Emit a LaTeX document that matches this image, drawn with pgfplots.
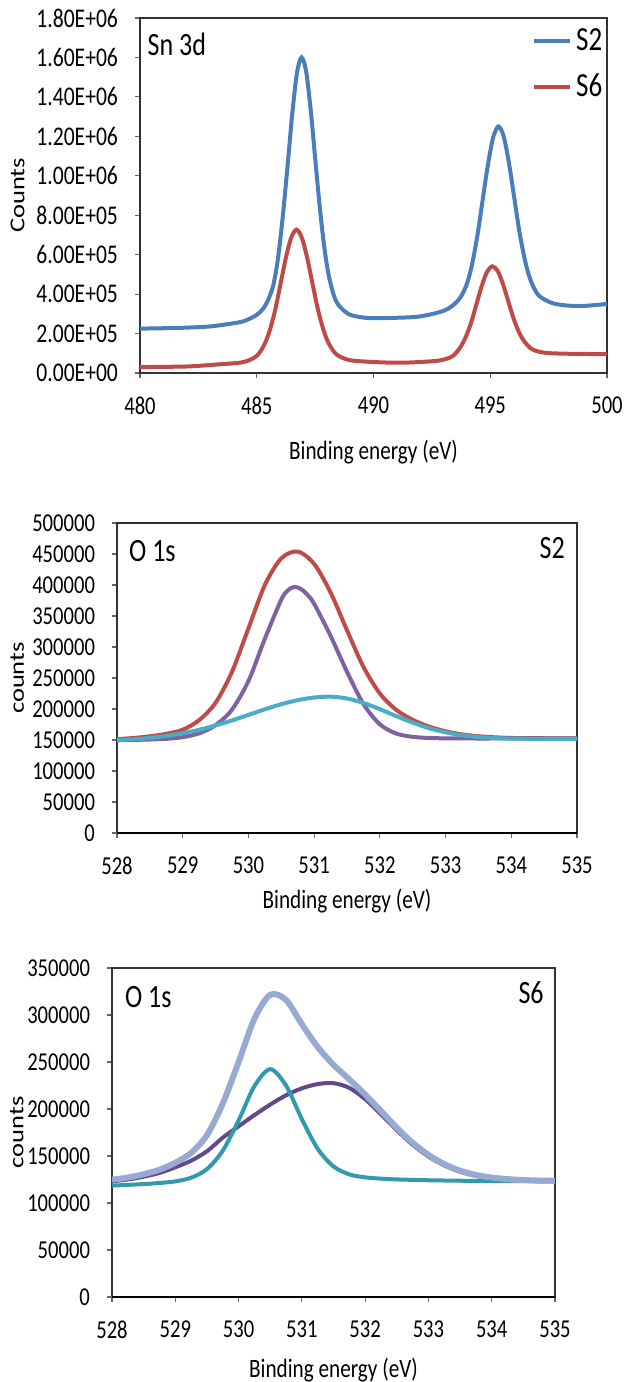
\documentclass[border=0pt]{standalone}
\usepackage{graphicx}
\usepackage{pgfplots}
\pgfplotsset{compat=1.18}
\usepackage{fontspec}
\setmainfont{Carlito}

\definecolor{sblue}{HTML}{4A7EBB}
\definecolor{sred}{HTML}{BE4B48}
\definecolor{spurple}{HTML}{7E62A1}
\definecolor{steal}{HTML}{4BACC6}
\definecolor{dpurple}{HTML}{604A8B}
\definecolor{dteal}{HTML}{3399AD}
\definecolor{lav}{HTML}{98AAD4}

% the reference text is drawn taller than wide
\newcommand{\st}[1]{\scalebox{1}[1.25]{#1}}
\newcommand{\sr}[1]{\scalebox{1.25}[1]{#1}}

% common Excel-like look, 1px of the reference = 0.5pt
\pgfplotsset{
  xps/.style={
    scale only axis,
    anchor=south west,
    axis line style={black!80, line width=0.6pt},
    tick align=outside, tick pos=left,
    major tick length=2.5pt,
    every tick/.style={black!60, line width=0.6pt},
    scaled ticks=false,
    tick label style={font=\fontsize{10.3}{12}\selectfont},
    xticklabel style={yshift=-6pt},
    yticklabel style={xshift=-5pt},
    label style={font=\fontsize{10.6}{12}\selectfont},
    xlabel style={anchor=center},
    ylabel style={anchor=center},
    xlabel={\st{Binding energy (eV)}},
    every axis plot/.append style={smooth, no marks},
  },
}
\tikzset{note/.style={font=\fontsize{13}{15}\selectfont, inner sep=0pt}}

\begin{document}
\begin{tikzpicture}
\path[use as bounding box] (0,0) rectangle (312.5pt,691pt);

% ---------------- Sn 3d ----------------
\begin{axis}[xps,
  at={(70pt,504.5pt)}, width=233.5pt, height=177.5pt,
  xmin=480, xmax=500, ymin=0, ymax=1800000,
  xtick={480,485,490,495,500}, xticklabels={\st{480},\st{485},\st{490},\st{495},\st{500}},
  ytick={0,200000,400000,600000,800000,1000000,1200000,1400000,1600000,1800000},
  yticklabels={\st{0.00E+00},\st{2.00E+05},\st{4.00E+05},\st{6.00E+05},\st{8.00E+05},
    \st{1.00E+06},\st{1.20E+06},\st{1.40E+06},\st{1.60E+06},\st{1.80E+06}},
  yticklabel style={font=\fontsize{10.8}{12}\selectfont},
  ylabel={\sr{Counts}},
  xlabel style={at={(axis description cs:0.5,-0.2225)}},
  ylabel style={at={(axis description cs:-0.262,0.5)}},
  legend style={draw=none, fill=none, at={(rel axis cs:0.839,0.870)}, anchor=west,
    inner sep=0pt, row sep=6pt, font=\fontsize{13.5}{15}\selectfont, cells={anchor=west}},
  legend image code/.code={\draw[#1, line width=2pt] (0pt,0pt) -- (18pt,0pt);},
]
\addplot[sblue, line width=2pt] coordinates {
(480,225000) (481,227000) (482,230000) (483,236000) (484,252000) (484.5,265000)
(485.0,295000) (485.3,330000) (485.52,380000) (485.72,450000) (485.92,590000)
(486.12,800000) (486.32,1050000) (486.52,1313000) (486.72,1520000) (486.92,1600000)
(487.12,1525000) (487.32,1323000) (487.52,1065000) (487.72,817000) (487.92,614000)
(488.12,474000) (488.42,359000) (488.92,300000) (489.5,282000) (490,278000)
(491,280000) (492,287000) (493.06,318000) (493.64,370000) (493.98,445000)
(494.21,545000) (494.44,690000) (494.66,865000) (494.89,1048000) (495.12,1192000)
(495.35,1250000) (495.58,1198000) (495.81,1058000) (496.04,879000) (496.26,709000)
(496.49,570000) (496.72,473000) (497.06,395000) (497.64,355000) (498.3,342000)
(499,340000) (500,350000)};
\addlegendentry{\st{S2}}
\addplot[sred, line width=2pt] coordinates {
(480,30000) (482,33000) (483.27,43000) (484.41,55000) (484.99,86000) (485.33,145000)
(485.56,217000) (485.79,320000) (486.01,447000) (486.24,580000) (486.47,684000)
(486.7,727000) (486.93,686000) (487.16,584000) (487.39,452000) (487.61,327000)
(487.84,225000) (488.07,153000) (488.41,95000) (488.99,65000) (490.13,55000)
(491,52000) (491.7,54000) (492.8,63000) (493.38,85000) (493.72,131000)
(493.95,182000) (494.18,255000) (494.4,345000) (494.63,439000) (494.86,512000)
(495.09,541000) (495.32,517000) (495.55,449000) (495.78,360000) (496.0,276000)
(496.23,207000) (496.46,160000) (496.8,120000) (497.38,102000) (498.56,97000)
(500,96000)};
\addlegendentry{\st{S6}}
\node[note] at (rel axis cs:0.079,0.927) {\st{Sn 3d}};
\end{axis}

% ---------------- O 1s, S2 ----------------
\begin{axis}[xps,
  at={(58.5pt,274.5pt)}, width=230pt, height=155pt,
  xmin=528, xmax=535, ymin=0, ymax=500000,
  xtick={528,...,535},
  xticklabels={\st{528},\st{529},\st{530},\st{531},\st{532},\st{533},\st{534},\st{535}},
  ytick={0,50000,100000,150000,200000,250000,300000,350000,400000,450000,500000},
  yticklabels={\st{0},\st{50000},\st{100000},\st{150000},\st{200000},\st{250000},
    \st{300000},\st{350000},\st{400000},\st{450000},\st{500000}},
  ylabel={\sr{counts}},
  xlabel style={at={(axis description cs:0.5,-0.219)}},
  ylabel style={at={(axis description cs:-0.217,0.5)}},
  extra y ticks={0}, extra y tick labels={},
  extra y tick style={grid=major, major grid style={black, line width=1.2pt}},
]
\addplot[sred, line width=2pt] coordinates {
(528.00,151300) (528.25,153200) (528.50,155900) (528.75,160000) (529.00,166500)
(529.25,182000) (529.50,210000) (529.75,260000) (530.00,330000) (530.25,400000)
(530.50,443000) (530.75,454000) (531.00,434000) (531.25,388000) (531.50,327000)
(531.75,268000) (532.00,225000) (532.25,198500) (532.50,182500) (532.75,171500)
(533.00,164000) (533.25,159000) (533.50,156000) (533.75,154300) (534.00,153300)
(534.25,153000) (534.50,152800) (534.75,152700) (535.00,152700)};
\addplot[spurple, line width=2pt] coordinates {
(528.00,149500) (528.25,150100) (528.50,150800) (528.75,151900) (529.00,154600)
(529.25,160700) (529.50,173900) (529.75,199000) (530.00,245100) (530.25,313300)
(530.50,376400) (530.60,391400) (530.70,397000) (530.80,393400) (530.90,384100)
(531.00,369700) (531.25,317900) (531.50,260000)
(531.75,208100) (532.00,175300) (532.25,160400) (532.50,155100) (532.75,153200)
(533.00,152700) (533.50,152400) (534.00,152500) (534.50,152600) (535.00,152700)};
\addplot[steal, line width=2pt] coordinates {
(528.00,149800) (528.25,151200) (528.50,153400) (528.75,156500) (529.00,160900)
(529.25,166400) (529.50,173500) (529.75,181600) (530.00,190500) (530.25,199500)
(530.50,207700) (530.75,214300) (531.00,218500) (531.25,219900) (531.50,216900)
(531.75,209700) (532.00,199700) (532.25,188500) (532.50,178000) (532.75,169000)
(533.00,162300) (533.25,157600) (533.50,154700) (533.75,153100) (534.00,152200)
(534.50,151900) (535.00,152000)};
\node[note] at (rel axis cs:0.077,0.910) {\st{O 1s}};
\node[note] at (rel axis cs:0.946,0.919) {\st{S2}};
\end{axis}

% ---------------- O 1s, S6 ----------------
\begin{axis}[xps,
  at={(56pt,42.5pt)}, width=221.5pt, height=164.5pt,
  xmin=528, xmax=535, ymin=0, ymax=350000,
  xtick={528,...,535},
  xticklabels={\st{528},\st{529},\st{530},\st{531},\st{532},\st{533},\st{534},\st{535}},
  ytick={0,50000,100000,150000,200000,250000,300000,350000},
  yticklabels={\st{0},\st{50000},\st{100000},\st{150000},\st{200000},\st{250000},
    \st{300000},\st{350000}},
  ylabel={\sr{counts}},
  xlabel style={at={(axis description cs:0.5,-0.222)}},
  ylabel style={at={(axis description cs:-0.215,0.5)}},
  extra y ticks={0}, extra y tick labels={},
  extra y tick style={grid=major, major grid style={black, line width=0.9pt}},
]
\addplot[dpurple, line width=2pt] coordinates {
(528.00,123100) (528.25,125000) (528.50,128000) (528.75,132000) (529.00,138000)
(529.25,145000) (529.50,155000) (529.75,169500) (530.00,181600) (530.25,193500)
(530.50,204700) (530.75,214600) (531.00,222000) (531.25,226500) (531.50,227500)
(531.75,222500) (532.00,210500) (532.25,194500) (532.50,177500) (532.75,162000)
(533.00,149500) (533.25,140000) (533.50,133200) (533.75,128900) (534.00,126200)
(534.25,124600) (534.50,123700) (534.75,123300) (535.00,123100)};
\addplot[dteal, line width=2pt] coordinates {
(528.00,118500) (528.25,119300) (528.50,120100) (528.75,121300) (529.00,123000)
(529.25,126900) (529.50,136000) (529.75,155600) (530.00,187800) (530.25,224300)
(530.50,242400) (530.75,225000) (531.00,189300) (531.25,157700) (531.50,138900)
(531.75,130400) (532.00,127300) (532.25,125900) (532.50,125100) (532.75,124600)
(533.00,124200) (533.50,123700) (534.00,123400) (534.50,123200) (535.00,123050)};
\addplot[sred, line width=0.6pt] coordinates {
(528.00,124800) (528.25,127100) (528.50,130600) (528.75,135400) (529.00,142800)
(529.25,153300) (529.50,172100) (529.75,205800) (530.00,249800) (530.25,296000)
(530.50,321500) (530.75,316000) (531.00,290200) (531.25,266000) (531.50,247000)
(531.75,231500) (532.00,215300) (532.25,197900) (532.50,180100) (532.75,164100)
(533.00,151200) (533.25,141400) (533.50,134400) (533.75,129900) (534.00,127100)
(534.25,125400) (534.50,124400) (534.75,123900) (535.00,123650)};
\addplot[lav, line width=3pt] coordinates {
(528.00,124800) (528.25,127100) (528.50,130600) (528.75,135400) (529.00,142800)
(529.25,153300) (529.50,172100) (529.75,205800) (530.00,249800) (530.25,296000)
(530.50,321500) (530.75,316000) (531.00,290200) (531.25,266000) (531.50,247000)
(531.75,231500) (532.00,215300) (532.25,197900) (532.50,180100) (532.75,164100)
(533.00,151200) (533.25,141400) (533.50,134400) (533.75,129900) (534.00,127100)
(534.25,125400) (534.50,124400) (534.75,123900) (535.00,123650)};
\node[note] at (rel axis cs:0.082,0.912) {\st{O 1s}};
\node[note] at (rel axis cs:0.946,0.924) {\st{S6}};
\end{axis}
\end{tikzpicture}
\end{document}
